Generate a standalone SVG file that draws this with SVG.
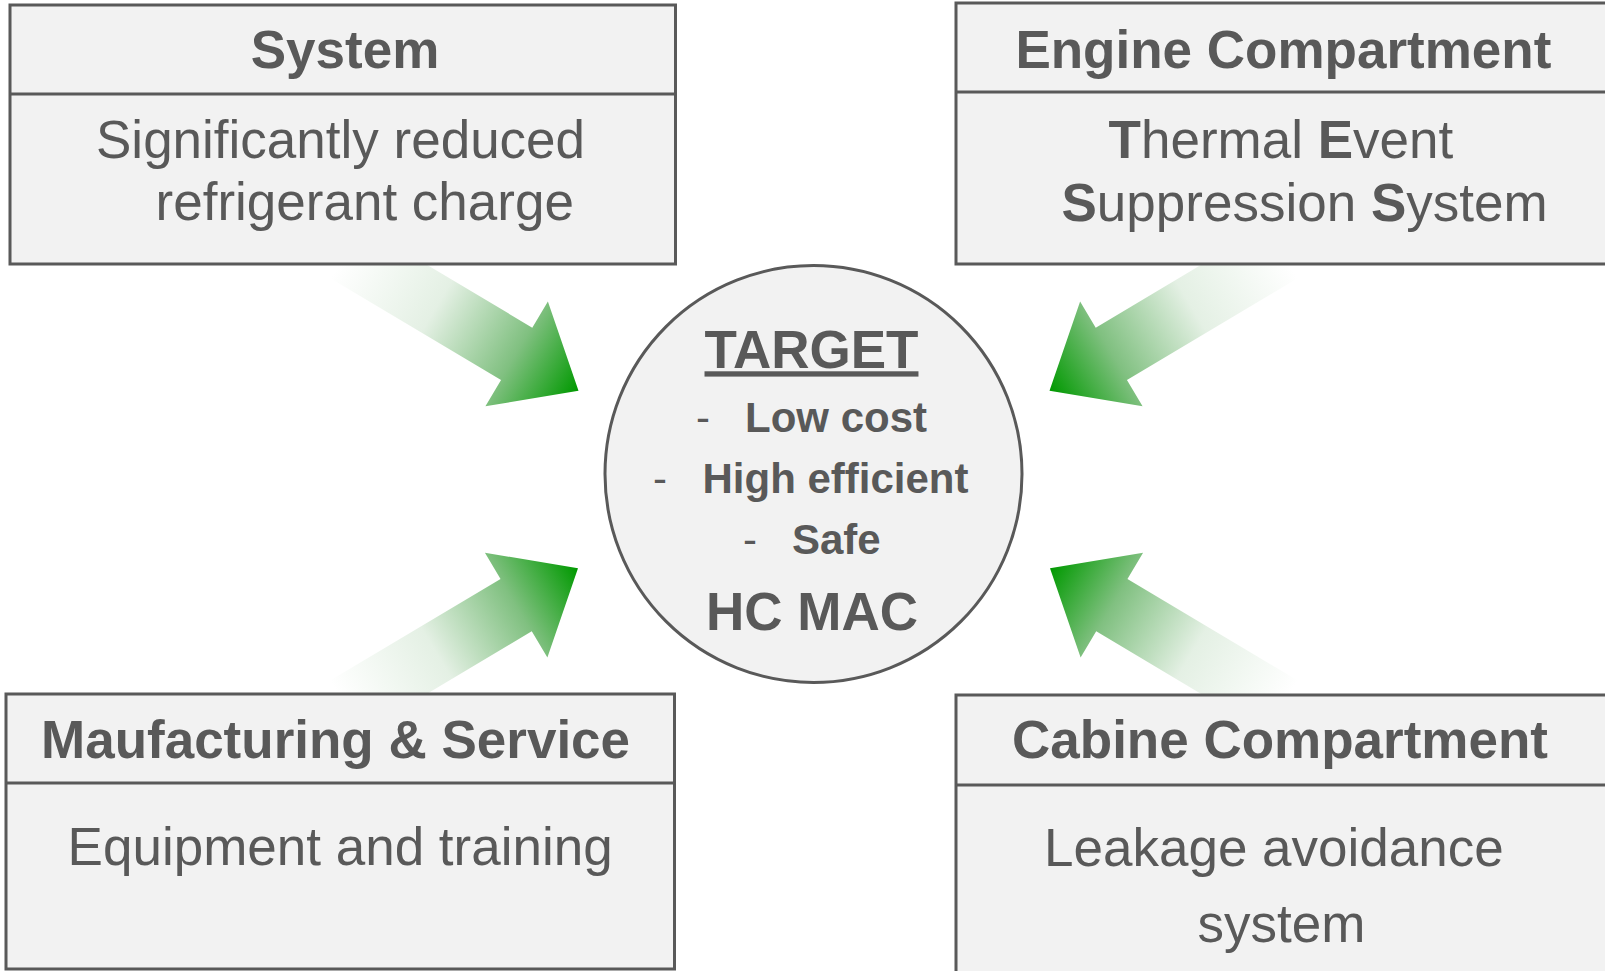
<svg xmlns="http://www.w3.org/2000/svg" xmlns:xlink="http://www.w3.org/1999/xlink" width="1605" height="971" viewBox="0 0 1605 971">
  <style>
    .box { fill: #f2f2f2; stroke: #595959; stroke-width: 3; }
    .div { stroke: #595959; stroke-width: 3; }
    text { font-family: "Liberation Sans", Arial, sans-serif; fill: #595959; }
    .hd { font-size: 53px; font-weight: bold; }
    .bd { font-size: 53px; font-weight: normal; }
    .b { font-weight: bold; }
    .li { font-size: 42px; font-weight: bold; }
    .dash { font-weight: normal; }
    .big { font-size: 53px; font-weight: bold; }
  </style>
  <defs>
    <linearGradient id="fade" x1="0" y1="0" x2="1" y2="0">
      <stop offset="0" stop-color="#ffffff"/>
      <stop offset="0.18" stop-color="#ffffff"/>
      <stop offset="0.5" stop-color="#e4f0e4"/>
      <stop offset="0.78" stop-color="#80c080"/>
      <stop offset="1" stop-color="#009900"/>
    </linearGradient>
    <path id="arrow" d="M0,0 L-72,-61 L-72,-30.5 L-330,-30.5 L-330,30.5 L-72,30.5 L-72,61 Z" fill="url(#fade)"/>
  </defs>
  <rect width="1605" height="971" fill="#ffffff"/>

  <g id="connectors">
    <use xlink:href="#arrow" href="#arrow" transform="translate(578.5,390.7) rotate(30.8)"/>
    <use xlink:href="#arrow" href="#arrow" transform="translate(1049.5,390.7) rotate(149.2)"/>
    <use xlink:href="#arrow" href="#arrow" transform="translate(578,568.3) rotate(-30.8)"/>
    <use xlink:href="#arrow" href="#arrow" transform="translate(1050,568.3) rotate(-149.2)"/>
  </g>

  <g id="system">
    <rect class="box" x="10" y="5" width="665.5" height="259"/>
    <line class="div" x1="10" y1="94" x2="675.5" y2="94"/>
    <text class="hd" x="345" y="68" text-anchor="middle">System</text>
    <text class="bd" x="96" y="158">Significantly reduced</text>
    <text class="bd" x="155.6" y="220">refrigerant charge</text>
  </g>

  <g id="engine">
    <rect class="box" x="956" y="3" width="670" height="261"/>
    <line class="div" x1="956" y1="92" x2="1626" y2="92"/>
    <text class="hd" x="1015.4" y="67.6">Engine Compartment</text>
    <text class="bd" x="1108.6" y="157.5"><tspan class="b">T</tspan>hermal <tspan class="b">E</tspan>vent</text>
    <text class="bd" x="1061.5" y="221"><tspan class="b">S</tspan>uppression <tspan class="b">S</tspan>ystem</text>
  </g>

  <g id="target">
    <circle class="box" cx="813.5" cy="474" r="208.5"/>
    <text class="big" x="811.5" y="368.3" text-anchor="middle" text-decoration="underline">TARGET</text>
    <text class="li" y="431.7"><tspan class="dash" x="696" y="431.7">-</tspan><tspan x="745" y="431.7">Low cost</tspan></text>
    <text class="li" y="493.3"><tspan class="dash" x="653" y="493.3">-</tspan><tspan x="702.5" y="493.3">High efficient</tspan></text>
    <text class="li" y="554"><tspan class="dash" x="743" y="554">-</tspan><tspan x="792" y="554">Safe</tspan></text>
    <text class="big" x="812" y="630" text-anchor="middle">HC MAC</text>
  </g>

  <g id="manufacturing">
    <rect class="box" x="6" y="694" width="668.5" height="275"/>
    <line class="div" x1="6" y1="783" x2="674.5" y2="783"/>
    <text class="hd" x="41" y="757.5">Maufacturing &amp; Service</text>
    <text class="bd" x="67.6" y="865">Equipment and training</text>
  </g>

  <g id="cabine">
    <rect class="box" x="956" y="695" width="670" height="280"/>
    <line class="div" x1="956" y1="785" x2="1626" y2="785"/>
    <text class="hd" x="1012" y="757.5">Cabine Compartment</text>
    <text class="bd" x="1044" y="866">Leakage avoidance</text>
    <text class="bd" x="1197.6" y="941.7">system</text>
  </g>
</svg>
